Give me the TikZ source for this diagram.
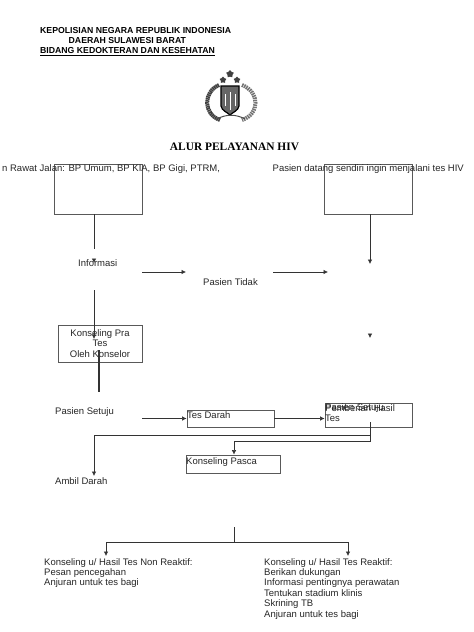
\documentclass[tikz,border=0pt]{standalone}
\usepackage{fontspec}
\setmainfont{Liberation Sans}
\newfontfamily\titlefont{Liberation Serif}
\usepackage{xcolor}
\usetikzlibrary{arrows.meta,calc,shapes.geometric}
\begin{document}
\begin{tikzpicture}[x=1pt,y=-1pt,>={Latex[length=4.5pt,width=4.5pt]},
  boxnode/.style={draw=black!65,line width=0.8pt,minimum width=#1,inner sep=0pt},
  label/.style={font=\fontsize{9.5}{10.4}\selectfont,inner sep=0pt,text=black!85},
  head/.style={font=\fontsize{8.7}{9.6}\selectfont\bfseries,inner sep=0pt,anchor=west},
  conn/.style={line width=0.6pt,black!80},
  flow/.style={conn,->}]
  \useasboundingbox (0,0) rectangle (474,632);
  % kop surat
  \node[head] (kop1) at (40,31) {KEPOLISIAN NEGARA REPUBLIK INDONESIA};
  \node[head] (kop2) at (68.5,40.5) {DAERAH SULAWESI BARAT};
  \node[head] (kop3) at (40,51.5) {\underline{BIDANG KEDOKTERAN DAN KESEHATAN}};
  % lambang
  \foreach \px/\py/\sz in {230/74/8,223/80/7,237/80/7}
    \node[star,star points=5,fill=black!75,inner sep=0pt,minimum size=\sz pt] at (\px,\py) {};
  \draw[black!75,line width=4pt,dash pattern=on 1.5pt off 0.5pt] (219,85) .. controls (203,92) and (203,114) .. (220,120);
  \draw[black!55,line width=4pt,dash pattern=on 1.5pt off 0.8pt] (242,85) .. controls (260,92) and (260,114) .. (242,120);
  \draw[black,fill=black!60,line width=1.2pt] (221,86) -- (239,86) -- (239,106) .. controls (238,111) and (233,112) .. (230,115) .. controls (227,112) and (222,111) .. (221,106) -- cycle;
  \draw[white,line width=1pt] (230,92) -- (230,110) (225,94) -- (225,106) (235,94) -- (235,106);
  \draw[black!70,line width=1pt] (217,119) .. controls (226,114) and (236,114) .. (245,119);
  \node[font=\titlefont\fontsize{11.4}{13}\selectfont\bfseries,inner sep=0pt] (judul) at (234.5,147) {ALUR PELAYANAN HIV};
  % kotak
  \node[boxnode=87.5pt,minimum height=50pt] (asal1) at (98.5,189) {};
  \node[boxnode=87.5pt,minimum height=50pt] (asal2) at (368.5,189) {};
  \node[boxnode=84pt,minimum height=37pt,align=center,label,draw=black!65,inner sep=0pt] (pra) at (100,343.5)
    {Konseling Pra\\Tes\\Oleh Konselor};
  \node[boxnode=87pt,minimum height=17pt] (tes) at (230.5,418.5) {};
  \node[label,anchor=west] at (187,415) {Tes Darah};
  \node[boxnode=87pt,minimum height=24pt] (hasil) at (368.5,415) {};
  \node[boxnode=94pt,minimum height=18pt] (pasca) at (233,464) {};
  \node[label,anchor=west] at (186,462) {Konseling Pasca};
  % teks
  \node[label,anchor=west] (rujuk) at (2,169.5) {n Rawat Jalan: BP Umum, BP KIA, BP Gigi, PTRM,};
  \node[label,anchor=west] (sendiri) at (272.5,169.5) {Pasien datang sendiri ingin menjalani tes HIV};
  \node[label,anchor=west] (info) at (78,263) {Informasi};
  \node[label,anchor=west] (tidak) at (203,282) {Pasien Tidak};
  \node[label,anchor=west] (setuju) at (55,412.5) {Pasien Setuju};
  \node[label,anchor=west] (ambil) at (55,481) {Ambil Darah};
  \node[label,anchor=west] at (325,408) {Pemberian Hasil};
  \node[label,anchor=west] at (325,408.5) {Pasien Setuju};
  \node[label,anchor=west] at (325,418.5) {Tes};
  \node[label,anchor=north west,align=left] (nonreaktif) at (44,558)
    {Konseling u/ Hasil Tes Non Reaktif:\\Pesan pencegahan\\Anjuran untuk tes bagi};
  \node[label,anchor=north west,align=left] (reaktif) at (264,558)
    {Konseling u/ Hasil Tes Reaktif:\\Berikan dukungan\\Informasi pentingnya perawatan\\Tentukan stadium klinis\\Skrining TB\\Anjuran untuk tes bagi};
  % titik bantu
  \coordinate (a1) at (94,249);
  \coordinate (a2) at (94,259);
  \coordinate (a3) at (94,263);
  \coordinate (a4) at (94,290);
  \coordinate (a5) at (94,339);
  \coordinate (a6) at (99,350);
  \coordinate (a7) at (99,392);
  \coordinate (b1) at (370,264);
  \coordinate (b2) at (370,334);
  \coordinate (b3) at (370,338);
  \coordinate (c1) at (142,272);
  \coordinate (c2) at (186,272);
  \coordinate (c3) at (273,272);
  \coordinate (c4) at (328,272);
  \coordinate (d1) at (142,418.5);
  \coordinate (e1) at (370,422);
  \coordinate (e2) at (370,435);
  \coordinate (e3) at (94,435);
  \coordinate (e4) at (94,476);
  \coordinate (e5) at (370,441);
  \coordinate (e6) at (234,441);
  \coordinate (f1) at (234,527);
  \coordinate (f2) at (234,542);
  \coordinate (f3) at (106,542);
  \coordinate (f4) at (106,556);
  \coordinate (f5) at (348,542);
  \coordinate (f6) at (348,556);
  % panah
  \draw[conn] (asal1.south -| a1) -- (a1);
  \draw[flow] (a2) -- (a3);
  \draw[flow] (a4) -- (a5);
  \draw[conn,line width=1.2pt] (a6) -- (a7);
  \draw[flow] (asal2.south -| b1) -- (b1);
  \draw[flow] (b2) -- (b3);
  \draw[flow] (c1) -- (c2);
  \draw[flow] (c3) -- (c4);
  \draw[flow] (d1) -- (tes.west);
  \draw[flow] (tes.east) -- (tes.east -| hasil.west);
  \draw[conn] (e1) -- (e5) -- (e6);
  \draw[flow] (e6) -- (pasca.north -| e6);
  \draw[conn] (e2) -- (e3);
  \draw[flow] (e3) -- (e4);
  \draw[conn] (f1) -- (f2);
  \draw[conn] (f3) -- (f5);
  \draw[flow] (f3) -- (f4);
  \draw[flow] (f5) -- (f6);
\end{tikzpicture}
\end{document}
